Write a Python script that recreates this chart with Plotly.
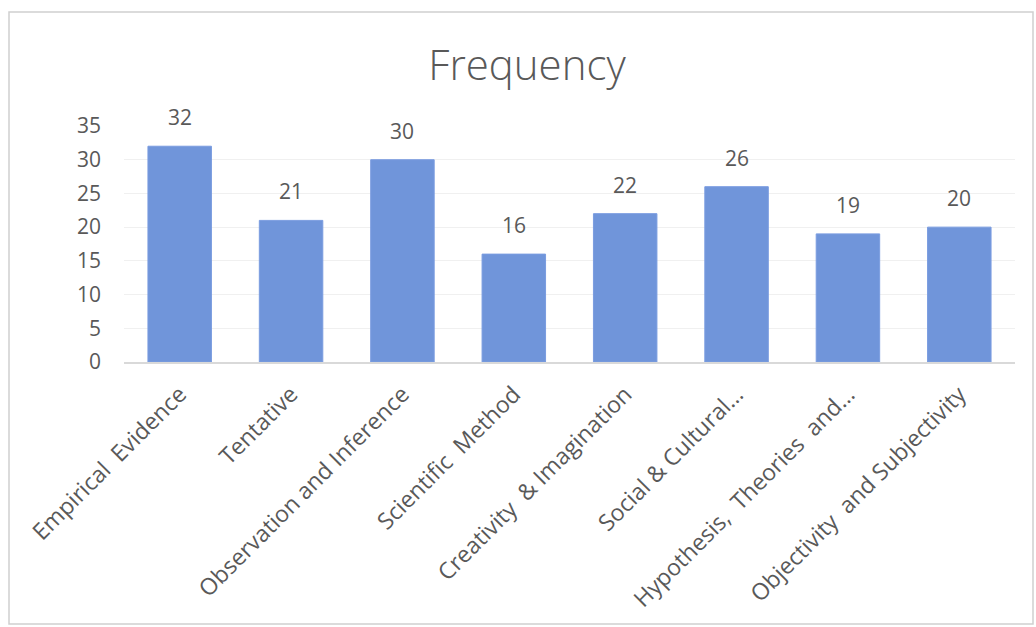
import plotly.graph_objects as go

categories = ["Empirical  Evidence", "Tentative", "Observation and Inference", "Scientific  Method",
              "Creativity  & Imagination", "Social & Cultural…", "Hypothesis,  Theories  and…",
              "Objectivity  and Subjectivity"]
values = [32, 21, 30, 16, 22, 26, 19, 20]
y_ticks = [0, 5, 10, 15, 20, 25, 30, 35]

FONT = "Open Sans"
GRAY = "#595959"

fig = go.Figure(go.Bar(
    x=categories, y=values,
    marker=dict(color="#7095DA", line=dict(color="#7A9CE0", width=1)),
    cliponaxis=False,
))

for c, v in zip(categories, values):
    fig.add_annotation(x=c, y=v, text=str(v), showarrow=False, yanchor="bottom", yshift=13,
                       font=dict(family=FONT, size=21, color=GRAY))

fig.update_layout(
    width=1036, height=627,
    margin=dict(l=124, r=21, t=126, b=265, autoexpand=False),
    paper_bgcolor="white", plot_bgcolor="white",
    bargap=0.43,
    showlegend=False,
    title=dict(text="Frequency", x=527/1036, xanchor="center", y=1-65/627, yanchor="middle",
               font=dict(family=FONT, size=42, color=GRAY, weight=300)),
    xaxis=dict(tickangle=-45, tickfont=dict(family=FONT, size=23, color=GRAY),
               showline=True, linecolor="#D9D9D9", linewidth=1.5, ticks="", showgrid=False,
               ticklabelstandoff=8),
    yaxis=dict(range=[0, 35], tickvals=y_ticks, tickfont=dict(family=FONT, size=21, color=GRAY),
               showgrid=True, gridcolor="#F0F0F0", gridwidth=1, zeroline=False, ticks="",
               showline=False, ticklabelstandoff=22),
)
# outer chart border (light gray), drawn in pixel-derived paper coordinates
pw, ph = 1036 - 124 - 21, 627 - 126 - 265
fig.layout.shapes = [dict(type="rect", xref="paper", yref="paper",
                          x0=(9 - 124) / pw, x1=(1033 - 124) / pw,
                          y0=(627 - 265 - 624) / ph, y1=(627 - 265 - 12) / ph,
                          line=dict(color="#D0D0D0", width=1.5), layer="below")]

fig.write_html("out.html")
